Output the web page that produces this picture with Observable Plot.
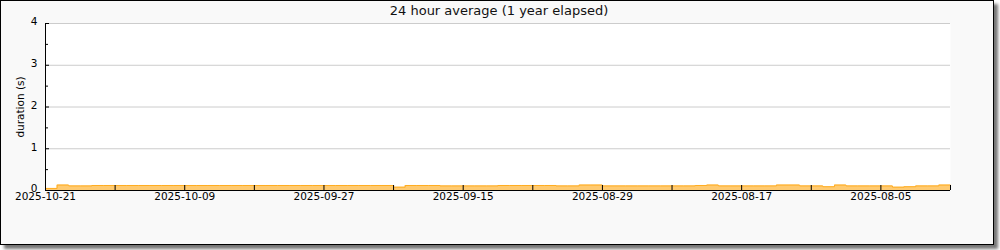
<!DOCTYPE html>
<html>
<head>
<meta charset="utf-8">
<script src="https://cdn.jsdelivr.net/npm/d3@7"></script>
<script src="https://cdn.jsdelivr.net/npm/@observablehq/plot@0.6"></script>
<style>
  html, body { margin: 0; padding: 0; background: #ffffff; }
  #frame {
    position: absolute; left: 0; top: 0;
    width: 992px; height: 243px;
    border: 1px solid #000;
    background: #f9f9f9;
    box-shadow: 4px 4px 3px #777;
  }
  #title {
    position: absolute; left: 0; top: 3px; width: 998px;
    text-align: center;
    font-family: "DejaVu Sans", sans-serif; font-size: 13px; color: #111;
  }
  #chart { position: absolute; left: 0; top: 0; }
</style>
</head>
<body>
<div id="frame"></div>
<div id="chart"></div>
<div id="title">24 hour average (1 year elapsed)</div>
<script>
// x positions are day indices (newest on the left)
const tickLabels = ["2025-10-21","2025-10-09","2025-09-27","2025-09-15","2025-08-29","2025-08-17","2025-08-05"];
const labelIndex = [0, 12, 24, 36, 48, 60, 72];
const tickIndex = [0, 6, 12, 18, 24, 30, 36, 42, 48, 54, 60, 66, 72, 78];
const yMajor = [0, 1, 2, 3, 4];
const yMinor = [0.5, 1.5, 2.5, 3.5];
// 24 hour average duration (s), one per day index 0..78
const durations = [
  0.05, 0.13, 0.11, 0.11, 0.12, 0.12, 0.12, 0.12, 0.12, 0.12,
  0.12, 0.12, 0.12, 0.12, 0.12, 0.12, 0.12, 0.12, 0.12, 0.12,
  0.12, 0.12, 0.12, 0.12, 0.12, 0.12, 0.12, 0.12, 0.12, 0.12,
  0.08, 0.12, 0.12, 0.12, 0.11, 0.11, 0.11, 0.11, 0.11, 0.12,
  0.12, 0.12, 0.12, 0.12, 0.11, 0.11, 0.13, 0.13, 0.11, 0.11,
  0.11, 0.11, 0.11, 0.11, 0.11, 0.11, 0.12, 0.13, 0.11, 0.11,
  0.11, 0.11, 0.11, 0.13, 0.13, 0.11, 0.11, 0.09, 0.13, 0.11,
  0.11, 0.11, 0.11, 0.08, 0.09, 0.11, 0.11, 0.13, 0.11
];
const data = durations.map((v, i) => ({i, v}));

const chart = Plot.plot({
  width: 993,
  height: 244,
  marginTop: 23,
  marginBottom: 54,
  marginLeft: 45,
  marginRight: 43,
  style: {fontFamily: "DejaVu Sans, sans-serif", fontSize: "10.5px", background: "transparent", color: "#000"},
  x: {domain: [0, 78]},
  y: {domain: [0, 4]},
  marks: [
    Plot.frame({fill: "white", stroke: "none"}),
    Plot.gridY([1, 2, 3, 4], {stroke: "#cccccc", strokeOpacity: 1}),
    Plot.areaY(data, {x: "i", y: "v", fill: "#ffca70", curve: "step-after"}),
    Plot.lineY(data, {x: "i", y: "v", stroke: "#ffad22", strokeWidth: 1, curve: "step-after"}),
    Plot.ruleY([0], {stroke: "#000"}),
    Plot.ruleX([0], {stroke: "#000"}),
    Plot.axisY({ticks: yMajor, tickFormat: d => String(d), tickSize: 0, tickPadding: 8, dy: -1.5, label: null}),
    Plot.axisY({ticks: yMajor, tickSize: -4, fill: "none", label: null}),
    Plot.axisY({ticks: yMinor, tickSize: -3, fill: "none", label: null}),
    Plot.axisX({ticks: labelIndex, tickFormat: d => tickLabels[labelIndex.indexOf(d)], tickSize: 0, tickPadding: 2, label: null}),
    Plot.axisX({ticks: tickIndex, tickSize: -5, fill: "none", label: null}),
    Plot.text(["duration (s)"], {frameAnchor: "left", textAnchor: "middle", rotate: -90, dx: -25, fontSize: 10.5})
  ]
});
document.getElementById("chart").appendChild(chart);
</script>
</body>
</html>
